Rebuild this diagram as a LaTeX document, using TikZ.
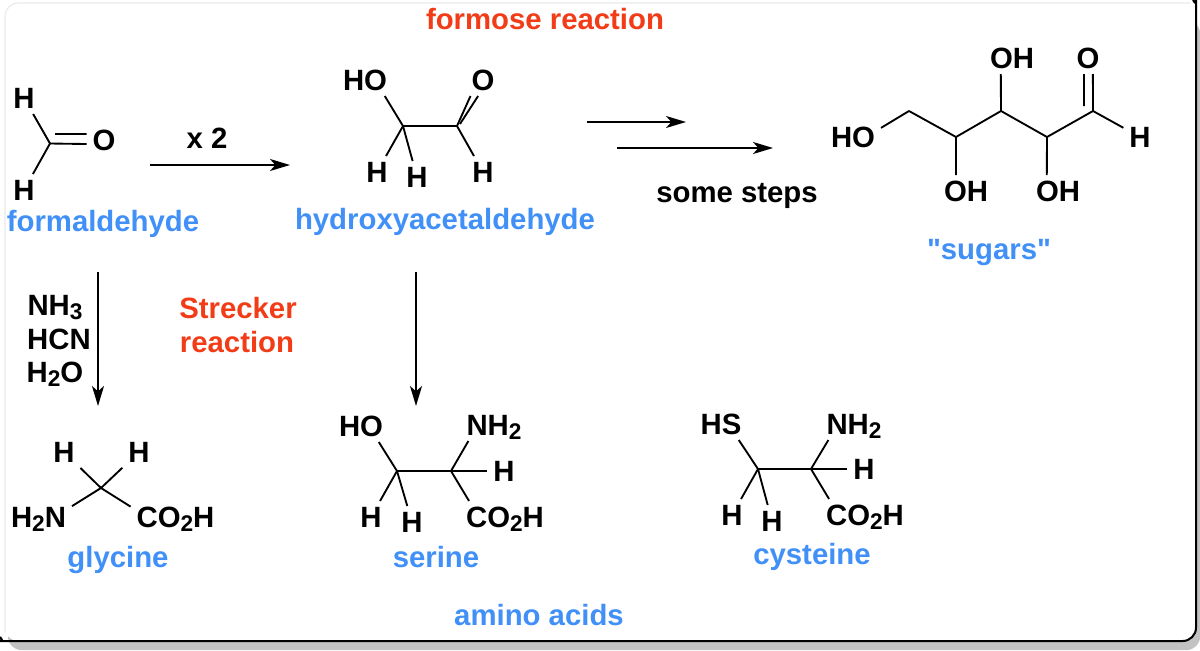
\documentclass[tikz,border=0pt]{standalone}
\usepackage{fontspec}
\usepackage{graphicx}
\setmainfont{Liberation Sans}
\newfontfamily\quotefont{Liberation Sans}
\usetikzlibrary{arrows.meta}
\definecolor{labblue}{HTML}{4090F8}
\definecolor{labred}{HTML}{F23C18}
\definecolor{shadowgray}{HTML}{C2C2C2}
\definecolor{edgegray}{HTML}{E9E9E9}
\newcommand{\sbs}[1]{\raisebox{-3.5pt}{\fontsize{17}{17}\selectfont #1}}
\newcommand{\qmark}{{\quotefont\bfseries "}}
\tikzset{
  atom/.style={font=\bfseries\fontsize{22}{26}\selectfont,inner sep=2pt,outer sep=2.5pt,text height=15pt,text depth=0pt},
  lab/.style={font=\bfseries\fontsize{22}{26}\selectfont,inner sep=0pt,text height=16pt,text depth=1pt},
  bond/.style={line width=1.4pt},
  rxn/.style={line width=1.4pt,-{Stealth[length=15pt,width=9pt,inset=4pt]}}
}
\begin{document}
\begin{tikzpicture}[x=0.75pt,y=-0.75pt]
\useasboundingbox (0,0) rectangle (1200,650);
\fill[shadowgray,rounded corners=10pt] (8,20) rectangle (1200,650);
\fill[white,rounded corners=10pt] (5,3) rectangle (1196,641);
\draw[edgegray,line width=0.8pt,rounded corners=10pt] (1190,3) -- (5,3) -- (5,632);
\draw[line width=1.5pt,rounded corners=10pt] (1193,0) .. controls (1195,3) and (1196,5) .. (1196,12) -- (1196,641) -- (8,641) .. controls (5,641) and (2,640) .. (0,637);

\node[lab,text=labred] (formose) at (545,19) {formose reaction};
\node[lab,text=labred] (strecker) at (238,308) {Strecker};
\node[lab,text=labred] (reaction) at (237,342) {reaction};
\node[lab,text=labblue] (formaldehyde) at (103,221) {formaldehyde};
\node[lab,text=labblue] (hydroxy) at (445,219) {hydroxyacetaldehyde};
\node[lab,text=labblue] (sugars) at (989,249) {\qmark sugars\qmark};
\node[lab,text=labblue] (glycine) at (118,557) {glycine};
\node[lab,text=labblue] (serine) at (436,557) {serine};
\node[lab,text=labblue] (cysteine) at (812,554) {cysteine};
\node[lab,text=labblue] (amino) at (539,615) {amino acids};
\node[lab] (xtwo) at (207,138) {x 2};
\node[lab] (steps) at (737,192) {some steps};
\node[atom] (nhthree) at (55,305) {NH\sbs{3}};
\node[atom] (hcn) at (59,339) {HCN};
\node[atom] (water) at (55,372) {H\sbs{2}O};

\coordinate (Aa) at (150,165);
\coordinate (Ab) at (290,165);
\coordinate (Ba) at (587,122);
\coordinate (Bb) at (686,122);
\coordinate (Ca) at (617,148);
\coordinate (Cb) at (773,148);
\coordinate (Da) at (98,272);
\coordinate (Db) at (98,406);
\coordinate (Ea) at (416,272);
\coordinate (Eb) at (416,406);
\path[rxn]
(Aa) edge (Ab)
(Ba) edge (Bb)
(Ca) edge (Cb)
(Da) edge (Db)
(Ea) edge (Eb);

\coordinate (F) at (50,143.5);
\coordinate (Fb) at (55,134);
\node[atom] (Fh) at (24,98) {H};
\node[atom] (Fk) at (24,190) {H};
\node[atom] (Fo) at (104,140) {O};
\path[bond]
(F) edge (Fh)
(F) edge (Fk)
(F) edge (Fo.193)
(Fb) edge (Fo.161);

\coordinate (Ga) at (403,126);
\coordinate (Gb) at (457,126);
\coordinate (Gc) at (460,124);
\node[atom] (Gho) at (365,80) {HO};
\node[atom] (Gh) at (377,172) {H};
\node[atom] (Gk) at (417,177) {H};
\node[atom] (Go) at (483,80) {O};
\node[atom] (Gm) at (483,172) {H};
\path[bond]
(Ga) edge (Gb)
(Ga) edge (Gho.-39)
(Ga) edge (Gh)
(Ga) edge (Gk)
(Gb) edge (Go.-128)
(Gc) edge (Go.-107)
(Gb) edge (Gm);

\coordinate (Ha) at (909,111);
\coordinate (Hb) at (956,137);
\coordinate (Hc) at (1001,111);
\coordinate (Hd) at (1047,137);
\coordinate (He) at (1093,111);
\coordinate (Hf) at (1084,106);
\node[atom] (Hho) at (853,137) {HO};
\node[atom] (Hoa) at (966,191) {OH};
\node[atom] (Hob) at (1012,58) {OH};
\node[atom] (Hoc) at (1058,191) {OH};
\node[atom] (Ho) at (1088,58) {O};
\node[atom] (Hh) at (1140,137) {H};
\path[bond]
(Ha) edge (Hho.18)
(Ha) edge (Hb)
(Hb) edge (Hc)
(Hc) edge (Hd)
(Hd) edge (He)
(Hb) edge (Hoa.122)
(Hc) edge (Hob.-125)
(Hd) edge (Hoc.125)
(He) edge (Ho.-73)
(Hf) edge (Ho.-104)
(He) edge (Hh);

\coordinate (I) at (101,488);
\node[atom] (Ih) at (64,452) {H};
\node[atom] (Ik) at (139,452) {H};
\node[atom] (Inh) at (38.5,517) {H\sbs{2}N};
\node[atom] (Ico) at (175.5,517) {CO\sbs{2}H};
\path[bond]
(I) edge (Ih)
(I) edge (Ik)
(I) edge (Inh.18)
(I) edge (Ico.167);

\coordinate (Ja) at (397,471);
\coordinate (Jb) at (451,471);
\node[atom] (Jho) at (361,426) {HO};
\node[atom] (Jnh) at (494,425) {NH\sbs{2}};
\node[atom] (Jm) at (504,471) {H};
\node[atom] (Jh) at (371,517) {H};
\node[atom] (Jk) at (412,522) {H};
\node[atom] (Jco) at (505,517) {CO\sbs{2}H};
\path[bond]
(Ja) edge (Jb)
(Ja) edge (Jho.-42)
(Ja) edge (Jh)
(Ja) edge (Jk)
(Jb) edge (Jnh.-148)
(Jb) edge (Jm)
(Jb) edge (Jco.156);

\coordinate (Ka) at (758,469);
\coordinate (Kb) at (811,469);
\node[atom] (Khs) at (721,424) {HS};
\node[atom] (Knh) at (854,424) {NH\sbs{2}};
\node[atom] (Km) at (864,469) {H};
\node[atom] (Kh) at (732,515) {H};
\node[atom] (Kk) at (772,521) {H};
\node[atom] (Kco) at (865,515) {CO\sbs{2}H};
\path[bond]
(Ka) edge (Kb)
(Ka) edge (Khs.-42)
(Ka) edge (Kh)
(Ka) edge (Kk)
(Kb) edge (Knh.-148)
(Kb) edge (Km)
(Kb) edge (Kco.156);
\end{tikzpicture}
\end{document}
